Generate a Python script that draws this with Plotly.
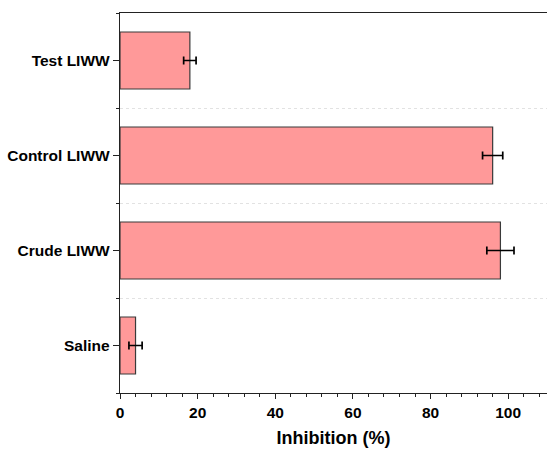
import plotly.graph_objects as go

categories = ["Saline", "Crude LIWW", "Control LIWW", "Test LIWW"]
inhibition = [4.0, 98.0, 96.0, 18.0]
errors = [1.7, 3.5, 2.6, 1.6]
x_ticks = [0, 20, 40, 60, 80, 100]

ypos = list(range(len(categories)))

fig = go.Figure()
fig.add_trace(go.Bar(
    x=inhibition, y=ypos, orientation="h", width=0.6,
    marker=dict(color="#FF9999", line=dict(color="#3a3a3a", width=1.2)),
    error_x=dict(type="data", array=errors, color="black", thickness=1.7, width=4),
))

font_fam = "Liberation Sans, Arial, sans-serif"
fig.update_layout(
    width=547, height=450,
    margin=dict(l=120, r=0, t=13, b=57),
    plot_bgcolor="white", paper_bgcolor="white",
    showlegend=False,
    font=dict(family=font_fam, color="black"),
    xaxis=dict(
        range=[0, 110], tickvals=x_ticks, ticks="outside", ticklen=5, tickwidth=1.4,
        tickcolor="#222", showline=True, linecolor="#222", linewidth=1.4, mirror=True,
        showgrid=False, zeroline=False,
        minor=dict(dtick=4, tick0=0, ticks="outside", ticklen=3, tickwidth=1.1, tickcolor="#222", showgrid=False),
        tickfont=dict(size=15.5, family=font_fam, weight="bold", color="black"),
        title=dict(text="Inhibition (%)", font=dict(size=18, family=font_fam, weight="bold", color="black"), standoff=11),
    ),
    yaxis=dict(
        range=[-0.5, 3.5], tickvals=ypos, ticktext=categories, ticks="outside", ticklen=6, tickwidth=1.4,
        tickcolor="#222", showline=True, linecolor="#222", linewidth=1.4, mirror=False,
        showgrid=False, zeroline=False,
        minor=dict(tickvals=[-0.5, 0.5, 1.5, 2.5, 3.5], ticks="outside", ticklen=3, tickwidth=1.1, tickcolor="#222",
                   showgrid=True, gridcolor="#e2e2e2", griddash="dot", gridwidth=1),
        tickfont=dict(size=15.5, family=font_fam, weight="bold", color="black"),
    ),
)

fig.write_html("out.html")
